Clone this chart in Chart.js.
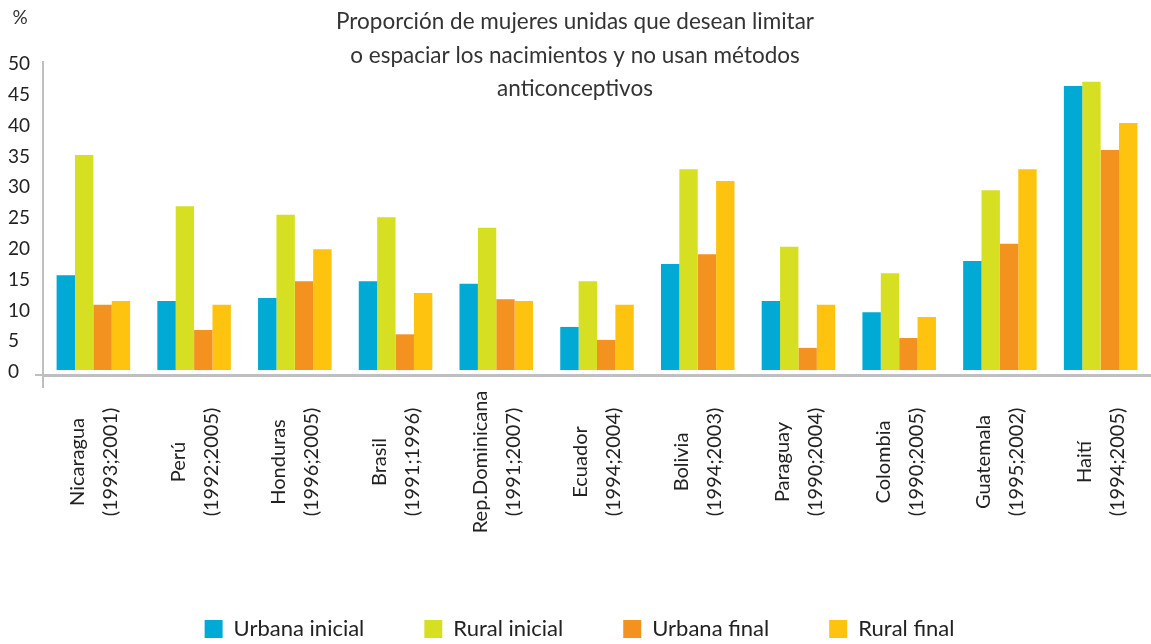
<!DOCTYPE html>
<html>
<head>
<meta charset="utf-8">
<script src="https://cdn.jsdelivr.net/npm/chart.js@4.4.1/dist/chart.umd.min.js"></script>
<style>
  html, body { margin: 0; padding: 0; background: #fff; }
  #wrap { width: 1151px; height: 644px; }
</style>
</head>
<body>
<div id="wrap"><canvas id="chart"></canvas></div>
<script>
var countries = ['Nicaragua', 'Perú', 'Honduras', 'Brasil', 'Rep.Dominicana', 'Ecuador',
                 'Bolivia', 'Paraguay', 'Colombia', 'Guatemala', 'Haití'];
var periods = ['(1993;2001)', '(1992;2005)', '(1996;2005)', '(1991;1996)', '(1991;2007)', '(1994;2004)',
               '(1994;2003)', '(1990;2004)', '(1990;2005)', '(1995;2002)', '(1994;2005)'];

var urbanaInicial = [15.4, 11.2, 11.7, 14.4, 14.0, 7.0, 17.2, 11.2, 9.4, 17.7, 46.1];
var ruralInicial  = [34.9, 26.6, 25.2, 24.8, 23.1, 14.4, 32.6, 20.0, 15.7, 29.2, 46.8];
var urbanaFinal   = [10.6, 6.5, 14.4, 5.8, 11.5, 4.9, 18.8, 3.6, 5.2, 20.5, 35.7];
var ruralFinal    = [11.2, 10.6, 19.6, 12.5, 11.2, 10.6, 30.7, 10.6, 8.6, 32.6, 40.1];

var yTicks = [0, 5, 10, 15, 20, 25, 30, 35, 40, 45, 50];

var titleLines = ['Proporción de mujeres unidas que desean limitar',
                  'o espaciar los nacimientos y no usan métodos',
                  'anticonceptivos'];

var axisGray = '#BEBFC1';
var fontName = 'Lato, "Open Sans", sans-serif';

// title, "%" mark, two-line x labels and the little axis cross
var decorations = {
    id: 'decorations',
    afterDraw: function(chart) {
        var ctx = chart.ctx;
        var area = chart.chartArea;
        var xs = chart.scales.x;
        ctx.save();

        ctx.strokeStyle = axisGray;
        ctx.lineWidth = 2;
        ctx.beginPath();
        ctx.moveTo(area.left, area.bottom);
        ctx.lineTo(area.left, area.bottom + 13);
        ctx.moveTo(area.left - 8, area.bottom);
        ctx.lineTo(area.left, area.bottom);
        ctx.stroke();

        ctx.fillStyle = '#333';
        ctx.textAlign = 'center';
        ctx.textBaseline = 'middle';
        ctx.font = '22.5px ' + fontName;
        for (var i = 0; i < titleLines.length; i++) {
            ctx.fillText(titleLines[i], 575, 22 + i * 33.5);
        }
        ctx.font = '19px ' + fontName;
        ctx.fillText('%', 20, 18);

        ctx.font = '20px ' + fontName;
        ctx.fillStyle = '#222';
        for (var j = 0; j < countries.length; j++) {
            var x = xs.getPixelForValue(j);
            ctx.save();
            ctx.translate(x, 462);
            ctx.rotate(-Math.PI / 2);
            ctx.fillText(countries[j], 0, -16);
            ctx.fillText(periods[j], 0, 17);
            ctx.restore();
        }
        ctx.restore();
    }
};

var ctx = document.getElementById('chart').getContext('2d');
var chart = new Chart(ctx, {
    type: 'bar',
    data: {
        labels: countries,
        datasets: [
            { label: 'Urbana inicial', data: urbanaInicial, backgroundColor: '#00AAD5' },
            { label: 'Rural inicial', data: ruralInicial, backgroundColor: '#D7DF23' },
            { label: 'Urbana final', data: urbanaFinal, backgroundColor: '#F3921F' },
            { label: 'Rural final', data: ruralFinal, backgroundColor: '#FEC30F' }
        ]
    },
    options: {
        responsive: true,
        maintainAspectRatio: false,
        animation: false,
        layout: { padding: { top: 62, left: 8, right: 0, bottom: 0 } },
        datasets: { bar: { categoryPercentage: 0.73, barPercentage: 1.0, borderWidth: 0 } },
        scales: {
            x: {
                offset: true,
                grid: { display: false },
                border: { color: axisGray, width: 3 },
                ticks: { display: false },
                afterFit: function(scale) { scale.height = 183; }
            },
            y: {
                min: -0.8,
                max: 50,
                grid: { display: false },
                border: { color: axisGray, width: 2 },
                afterBuildTicks: function(scale) {
                    scale.ticks = yTicks.map(function(v) { return { value: v }; });
                },
                afterFit: function(scale) { scale.width = 35; },
                ticks: {
                    crossAlign: 'far',
                    labelOffset: 2,
                    color: '#222',
                    font: { family: fontName, size: 19 }
                }
            }
        },
        plugins: {
            tooltip: { enabled: false },
            legend: {
                position: 'bottom',
                maxHeight: 86,
                labels: {
                    boxWidth: 18,
                    boxHeight: 18,
                    padding: 60,
                    color: '#222',
                    font: { family: fontName, size: 22 }
                }
            }
        }
    },
    plugins: [decorations]
});
</script>
</body>
</html>
